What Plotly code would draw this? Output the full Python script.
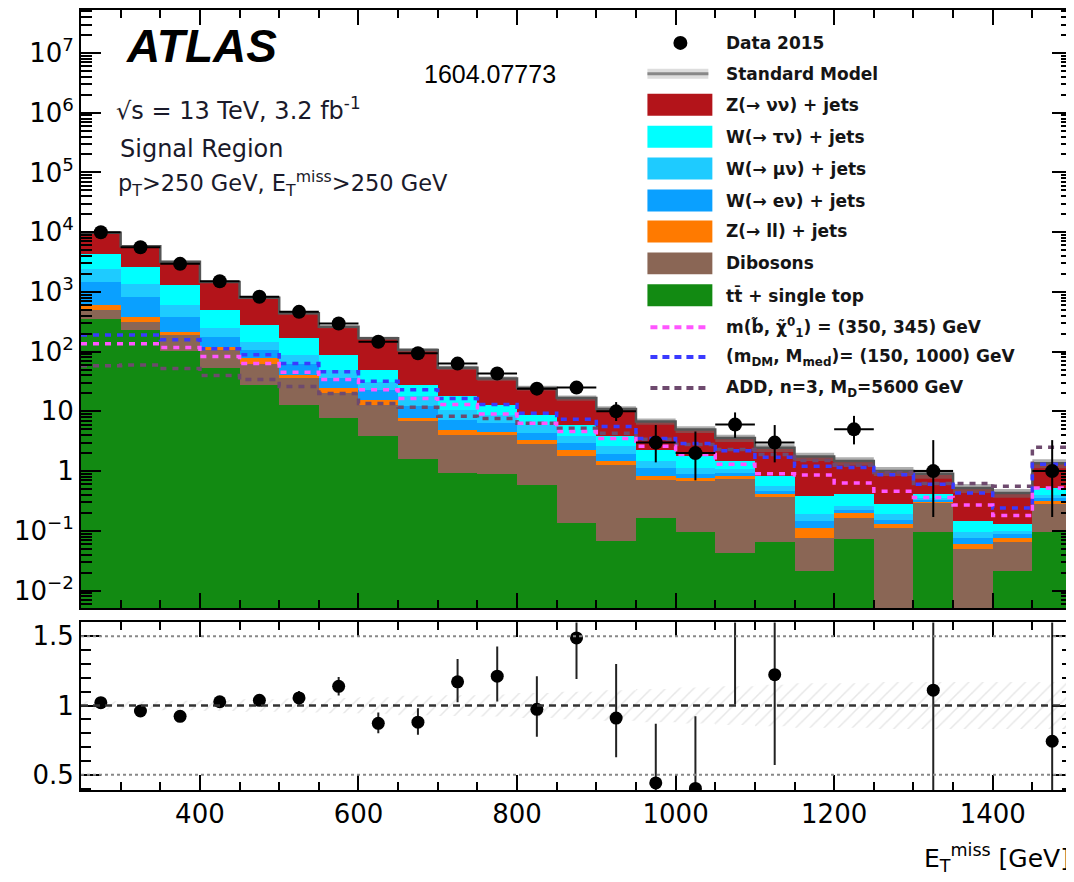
import plotly.graph_objects as go

# ---------------- data ----------------
edges = [250, 300, 350, 400, 450, 500, 550, 600, 650, 700, 750, 800, 850,
         900, 950, 1000, 1050, 1100, 1150, 1200, 1250, 1300, 1350, 1400, 1450, 1500]
centers = [275, 325, 375, 425, 475, 525, 575, 625, 675, 725, 775, 825, 875,
           925, 975, 1025, 1075, 1125, 1175, 1225, 1275, 1325, 1375, 1425, 1475]

z_nunu = [5500, 3230, 1910, 975, 523, 274, 172, 118, 79, 36, 22.6, 15.9, 10.8,
          7.2, 4.5, 3.2, 2.1, 1.62, 1.37, 1.06, 0.72, 0.49, 0.373, 0.30, 0.82]
w_taunu = [1900, 1240, 690, 250, 130, 77, 38, 18, 10.1, 7.1, 4.1, 2.8, 2.2,
           1.2, 0.83, 0.65, 0.4, 0.27, 0.19, 0.15, 0.09, 0.06, 0.05, 0.03, 0.13]
w_munu = [930, 535, 220, 67, 39, 26, 14, 8.6, 5.7, 3.4, 2.4, 1.65, 0.84,
          0.7, 0.34, 0.23, 0.14, 0.10, 0.043, 0.04, 0.04, 0.02, 0.022, 0.013, 0.05]
w_enu = [870, 440, 165, 58, 31, 22, 11.5, 7.3, 4.4, 2.35, 1.8, 0.95, 0.66,
         0.43, 0.30, 0.13, 0.10, 0.05, 0.034, 0.02, 0.02, 0.015, 0.015, 0.01, 0.034]
z_ll = [100, 69, 25, 13, 14, 5, 4.5, 2.8, 0.9, 0.85, 0.6, 0.5, 0.52,
        0.21, 0.13, 0.09, 0.10, 0.05, 0.036, 0.034, 0.02, 0.015, 0.01, 0.011, 0.03]
dibosons = [145, 82, 87, 54, 35, 23, 12.3, 9.1, 5.2, 3.15, 3.1, 2.3, 1.64,
            1.19, 0.53, 0.59, 0.69, 0.30, 0.055, 0.093, 0.11, 0.206, 0.05, 0.0445, 0.19]
top = [355, 234, 103, 53, 28, 13, 7.7, 3.8, 1.57, 0.94, 0.88, 0.58, 0.137,
       0.068, 0.166, 0.094, 0.043, 0.064, 0.0215, 0.073, 0.0, 0.094, 0.0, 0.0215, 0.094]

sm_rel_unc = [0.03, 0.03, 0.035, 0.04, 0.045, 0.05, 0.055, 0.06, 0.07, 0.075, 0.08, 0.09, 0.10,
              0.11, 0.12, 0.13, 0.14, 0.15, 0.16, 0.16, 0.17, 0.17, 0.17, 0.17, 0.17]

data = [10000, 5600, 2950, 1510, 830, 464, 296, 146, 94, 63, 43, 24, 25,
        10, 3, 2, 6, 3, 0, 5, 0, 1, 0, 0, 1]
data_err_hi = [100, 75, 54, 39, 29, 22, 17.7, 13.1, 10.7, 8.9, 7.6, 5.9, 6.0,
               4.3, 2.9, 2.6, 3.6, 2.9, 0, 3.4, 0, 2.3, 0, 0, 2.3]
data_err_lo = [100, 75, 54, 39, 29, 22, 17.2, 12.1, 9.7, 7.9, 6.5, 4.9, 5.0,
               3.1, 1.6, 1.3, 2.4, 1.6, 0, 2.2, 0, 0.83, 0, 0, 0.83]

sig_sbottom = [135, 135, 117, 83, 63, 45, 34, 23, 16.5, 13, 9, 6.3, 4.6,
               3.5, 2.6, 1.9, 1.3, 0.9, 0.86, 0.63, 0.46, 0.36, 0.27, 0.18, 0.52]
sig_dm = [190, 190, 158, 112, 89, 63, 46, 32, 23, 16.5, 13, 9.3, 7.4,
          5.6, 3.5, 2.9, 2.2, 1.7, 1.2, 1.15, 0.87, 0.6, 0.43, 0.24, 1.3]
sig_add = [58, 60, 52, 40, 34, 26, 20, 13.5, 11.7, 8.3, 7.6, 6.3, 5.2,
           4.3, 3.4, 2.8, 2.3, 1.9, 1.5, 1.25, 0.95, 0.62, 0.62, 0.56, 2.5]

y_tickvals = [1e-2, 1e-1, 1, 10, 1e2, 1e3, 1e4, 1e5, 1e6, 1e7]
y_ticktext = ["10<sup>−2</sup>", "10<sup>−1</sup>", "1", "10", "10<sup>2</sup>", "10<sup>3</sup>",
              "10<sup>4</sup>", "10<sup>5</sup>", "10<sup>6</sup>", "10<sup>7</sup>"]
x_tickvals = [400, 600, 800, 1000, 1200, 1400]
r_tickvals = [0.5, 1, 1.5]
r_ticktext = ["0.5", "1", "1.5"]

# ---------------- colours ----------------
C_ZNN = "#b3141a"
C_WTN = "#00ffff"
C_WMN = "#1ecbff"
C_WEN = "#0aa0ff"
C_ZLL = "#ff7a00"
C_DIB = "#8a6655"
C_TOP = "#128a12"
C_SB = "#ff55ff"
C_DM = "#3a3aff"
C_ADD = "#6e4a6e"

FONT = "DejaVu Sans"

sm = [a + b + c + d + e + f + g for a, b, c, d, e, f, g in
      zip(z_nunu, w_taunu, w_munu, w_enu, z_ll, dibosons, top)]
sm_hi = [s * (1 + u) for s, u in zip(sm, sm_rel_unc)]
sm_lo = [s * (1 - u) for s, u in zip(sm, sm_rel_unc)]


def step(vals):
    return list(vals) + [vals[-1]]


fig = go.Figure()

# stacked backgrounds (bottom to top)
for vals, col in [(top, C_TOP), (dibosons, C_DIB), (z_ll, C_ZLL), (w_enu, C_WEN),
                  (w_munu, C_WMN), (w_taunu, C_WTN), (z_nunu, C_ZNN)]:
    fig.add_trace(go.Bar(x=centers, y=vals, width=50, marker=dict(color=col, line=dict(width=0)),
                         xaxis="x", yaxis="y", showlegend=False, hoverinfo="skip"))

# SM band + line
fig.add_trace(go.Scatter(x=edges, y=step(sm_lo), mode="lines", line=dict(width=0, shape="hv"),
                         xaxis="x", yaxis="y", showlegend=False, hoverinfo="skip"))
fig.add_trace(go.Scatter(x=edges, y=step(sm_hi), mode="lines", line=dict(width=0, shape="hv"),
                         fill="tonexty", fillcolor="rgba(110,110,110,0.55)",
                         xaxis="x", yaxis="y", showlegend=False, hoverinfo="skip"))
fig.add_trace(go.Scatter(x=edges, y=step(sm), mode="lines", line=dict(width=2.5, shape="hv", color="#555555"),
                         xaxis="x", yaxis="y", showlegend=False, hoverinfo="skip"))

# signals
for vals, col in [(sig_add, C_ADD), (sig_dm, C_DM), (sig_sbottom, C_SB)]:
    fig.add_trace(go.Scatter(x=edges, y=step(vals), mode="lines",
                             line=dict(width=3.5, shape="hv", color=col, dash="6px,6px"),
                             xaxis="x", yaxis="y", showlegend=False, hoverinfo="skip"))

# data
dx = [c for c, n in zip(centers, data) if n > 0]
dy = [n for n in data if n > 0]
dhi = [e for e, n in zip(data_err_hi, data) if n > 0]
dlo = [e for e, n in zip(data_err_lo, data) if n > 0]
fig.add_trace(go.Scatter(x=dx, y=dy, mode="markers", marker=dict(size=14, color="black"),
                         error_y=dict(type="data", symmetric=False, array=dhi, arrayminus=dlo,
                                      thickness=2, width=0, color="black"),
                         error_x=dict(type="constant", value=25, thickness=2, width=0, color="black"),
                         xaxis="x", yaxis="y", showlegend=False, hoverinfo="skip"))

# ratio band
fig.add_trace(go.Scatter(x=edges, y=step([1 - u for u in sm_rel_unc]), mode="lines",
                         line=dict(width=0, shape="hv"), xaxis="x2", yaxis="y2",
                         showlegend=False, hoverinfo="skip"))
fig.add_trace(go.Scatter(x=edges, y=step([1 + u for u in sm_rel_unc]), mode="lines",
                         line=dict(width=0, shape="hv"), fill="tonexty",
                         fillcolor="rgba(0,0,0,0)",
                         fillpattern=dict(shape="/", fgcolor="#d0d0d0", bgcolor="rgba(0,0,0,0)",
                                          size=10, solidity=0.15),
                         xaxis="x2", yaxis="y2", showlegend=False, hoverinfo="skip"))

# ratio points
rx = [c for c, n in zip(centers, data) if n > 0]
ry = [n / s for n, s in zip(data, sm) if n > 0]
rhi = [e / s for e, s, n in zip(data_err_hi, sm, data) if n > 0]
rlo = [e / s for e, s, n in zip(data_err_lo, sm, data) if n > 0]
fig.add_trace(go.Scatter(x=rx, y=ry, mode="markers", marker=dict(size=13, color="black"),
                         error_y=dict(type="data", symmetric=False, array=rhi, arrayminus=rlo,
                                      thickness=2, width=0, color="#222222"),
                         xaxis="x2", yaxis="y2", showlegend=False, hoverinfo="skip"))

# ---------------- layout ----------------
# the page adds an 8 px body margin, so the figure is drawn from (8, 8)
OFF = 8
W, H = 1074 - OFF, 882 - OFF
SL, SR, ST, SB = 81, 1073, 8, 790          # plot frame in screen pixels
L, R, T, B = SL - OFF, SR - OFF, ST - OFF, SB - OFF


def px(x):
    return (x - SL) / (SR - SL)


def py(y):
    return (SB - y) / (SB - ST)


top_dom = [py(608), 1.0]
bot_dom = [0.0, py(622)]

minor_log = [m * 10 ** e for e in range(-3, 8) for m in range(2, 10)]

axis_common = dict(showline=True, mirror="ticks", linecolor="black", linewidth=2,
                   ticks="inside", tickcolor="black", tickwidth=2, showgrid=False, zeroline=False)

fig.update_layout(
    width=W, height=H, margin=dict(l=L, r=W - R, t=T, b=H - B, pad=0),
    plot_bgcolor="white", paper_bgcolor="white",
    barmode="stack", bargap=0, showlegend=False,
    font=dict(family=FONT, color="black"),
    xaxis=dict(domain=[0, 1], range=[250, 1500], anchor="y", tickvals=x_tickvals,
               showticklabels=False, ticklen=15,
               minor=dict(ticks="inside", dtick=50, tick0=0, ticklen=8, tickcolor="black", tickwidth=2),
               **axis_common),
    xaxis2=dict(domain=[0, 1], range=[250, 1500], anchor="y2", matches="x", tickvals=x_tickvals,
                ticklen=15, tickfont=dict(size=26, family=FONT),
                minor=dict(ticks="inside", dtick=50, tick0=0, ticklen=8, tickcolor="black", tickwidth=2),
                **axis_common),
    yaxis=dict(domain=top_dom, type="log", range=[-2.3, 7.72], anchor="x",
               tickvals=y_tickvals, ticktext=y_ticktext, ticklen=20,
               tickfont=dict(size=26, family=FONT),
               minor=dict(ticks="inside", tickmode="array", tickvals=minor_log, ticklen=11,
                          tickcolor="black", tickwidth=2),
               **axis_common),
    yaxis2=dict(domain=bot_dom, range=[0.39, 1.6], anchor="x2",
                tickvals=r_tickvals, ticktext=r_ticktext, ticklen=20,
                tickfont=dict(size=26, family=FONT),
                minor=dict(ticks="inside", dtick=0.1, tick0=0, ticklen=10, tickcolor="black", tickwidth=2),
                **axis_common),
)

shapes = []
annotations = []

# ratio reference lines
shapes.append(dict(type="line", xref="x2 domain", yref="y2", x0=0, x1=1, y0=1.5, y1=1.5,
                   line=dict(color="#888888", width=2, dash="dot")))
shapes.append(dict(type="line", xref="x2 domain", yref="y2", x0=0, x1=1, y0=0.5, y1=0.5,
                   line=dict(color="#888888", width=2, dash="dot")))
shapes.append(dict(type="line", xref="x2 domain", yref="y2", x0=0, x1=1, y0=1, y1=1,
                   line=dict(color="#333333", width=2.5, dash="7px,5px")))

# ---------------- legend (manual) ----------------
rows = [41, 72, 103, 135, 167, 199, 230, 262, 294, 326, 356, 387]
labels = ["Data 2015", "Standard Model", "Z(→ νν) + jets", "W(→ τν) + jets",
          "W(→ μν) + jets", "W(→ eν) + jets", "Z(→ ll) + jets", "Dibosons",
          "tt̄ + single top",
          "m(b̃, χ̃<sup>0</sup><sub>1</sub>) = (350, 345) GeV",
          "(m<sub>DM</sub>, M<sub>med</sub>)= (150, 1000) GeV",
          "ADD, n=3, M<sub>D</sub>=5600 GeV"]
box_cols = [C_ZNN, C_WTN, C_WMN, C_WEN, C_ZLL, C_DIB, C_TOP]
x0b, x1b = 648, 713

# data marker
shapes.append(dict(type="circle", xref="paper", yref="paper",
                   x0=px(674), x1=px(688), y0=py(48), y1=py(34),
                   fillcolor="black", line=dict(width=0)))
# SM symbol
shapes.append(dict(type="rect", xref="paper", yref="paper",
                   x0=px(x0b), x1=px(x1b - 4), y0=py(77), y1=py(67),
                   fillcolor="#dddddd", line=dict(width=0)))
shapes.append(dict(type="line", xref="paper", yref="paper",
                   x0=px(x0b), x1=px(x1b - 4), y0=py(72), y1=py(72),
                   line=dict(color="#888888", width=3)))
for r, col in zip(rows[2:9], box_cols):
    shapes.append(dict(type="rect", xref="paper", yref="paper",
                       x0=px(x0b), x1=px(x1b), y0=py(r + 11), y1=py(r - 11),
                       fillcolor=col, line=dict(width=0)))
for r, col in zip(rows[9:], [C_SB, C_DM, C_ADD]):
    shapes.append(dict(type="line", xref="paper", yref="paper",
                       x0=px(651), x1=px(710), y0=py(r), y1=py(r),
                       line=dict(color=col, width=4, dash="7px,5px")))
for r, lab in zip(rows, labels):
    annotations.append(dict(xref="paper", yref="paper", x=px(725), y=py(r), text=lab,
                            showarrow=False, xanchor="left", yanchor="middle",
                            font=dict(family=FONT, size=17, color="#151515", weight="bold")))

# ---------------- texts ----------------
annotations.append(dict(xref="paper", yref="paper", x=px(124), y=py(44), text="ATLAS",
                        showarrow=False, xanchor="left", yanchor="middle",
                        font=dict(family="Liberation Sans", size=46, color="black",
                                  weight="bold", style="italic")))
annotations.append(dict(xref="paper", yref="paper", x=px(422), y=py(72), text="1604.07773",
                        showarrow=False, xanchor="left", yanchor="middle",
                        font=dict(family="Liberation Sans", size=25, color="black")))
annotations.append(dict(xref="paper", yref="paper", x=px(114), y=py(107),
                        text="√s = 13 TeV, 3.2 fb<sup>-1</sup>",
                        showarrow=False, xanchor="left", yanchor="middle",
                        font=dict(family=FONT, size=24, color="#1a1a2a")))
annotations.append(dict(xref="paper", yref="paper", x=px(118), y=py(147), text="Signal Region",
                        showarrow=False, xanchor="left", yanchor="middle",
                        font=dict(family=FONT, size=24, color="#1a1a2a")))
annotations.append(dict(xref="paper", yref="paper", x=px(116), y=py(182),
                        text="p<sub>T</sub>>250 GeV, E<sub>T</sub><sup>miss</sup>>250 GeV",
                        showarrow=False, xanchor="left", yanchor="middle",
                        font=dict(family=FONT, size=22.5, color="#1a1a2a")))
annotations.append(dict(xref="paper", yref="paper", x=1.0, y=py(858),
                        text="E<sub>T</sub><sup>miss</sup> [GeV]",
                        showarrow=False, xanchor="right", yanchor="middle",
                        font=dict(family=FONT, size=25, color="black")))

fig.update_layout(shapes=shapes, annotations=annotations)

fig.write_html("out.html")
